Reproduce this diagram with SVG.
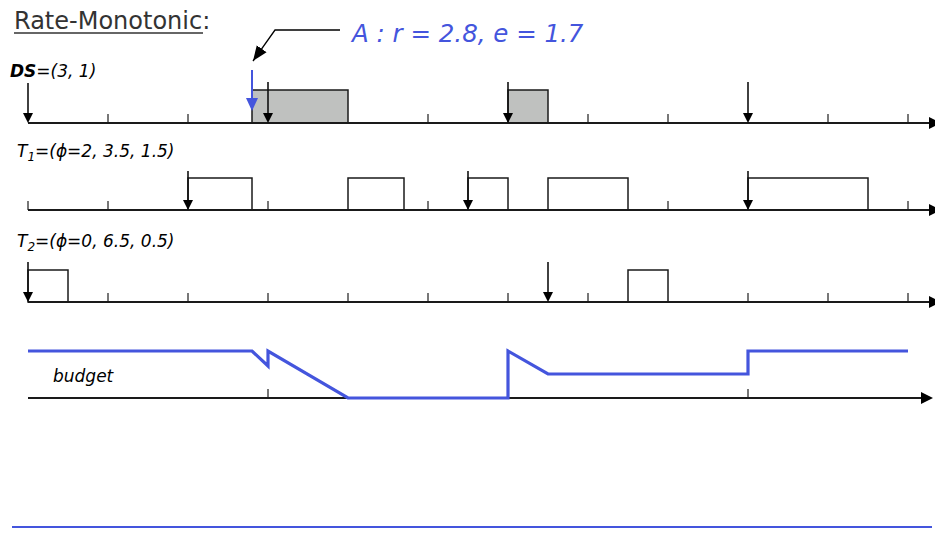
<svg xmlns="http://www.w3.org/2000/svg" width="935" height="555" viewBox="0 0 935 555">
  <defs>
    <style>
      .axis { stroke: #1a1a1a; stroke-width: 2; fill: none; }
      .tick { stroke: #555; stroke-width: 1.6; }
      .job { fill: #ffffff; stroke: #1a1a1a; stroke-width: 1.5; }
      .srv { fill: #bfc1bf; stroke: #1a1a1a; stroke-width: 1.5; }
      .rel { stroke: #111; stroke-width: 1.6; }
      .head { fill: #000; }
      .lbl { font-family: "DejaVu Sans", "Liberation Sans", sans-serif; font-style: oblique; font-size: 17px; fill: #000; }
      .budget { fill: none; stroke: #4455dd; stroke-width: 3.2; stroke-linejoin: miter; }
    </style>
    <marker id="calloutHead" markerUnits="userSpaceOnUse" markerWidth="16" markerHeight="16" viewBox="0 0 16 16" refX="15" refY="8" orient="auto">
      <path d="M0,2 L15,8 L0,14 Z" fill="#000"/>
    </marker>
  </defs>

  <!-- Title -->
  <g id="title">
    <text x="14" y="29" font-family="DejaVu Sans, Liberation Sans, sans-serif" font-size="24" fill="#333">Rate-Monotonic:</text>
    <line x1="14" y1="33" x2="203" y2="33" stroke="#333" stroke-width="1.5"/>
  </g>

  <!-- Deferrable server row -->
  <g id="ds">
    <text class="lbl" x="10" y="77"><tspan font-weight="bold">DS</tspan>=(3, 1)</text>
    <rect class="srv" x="252" y="90" width="96" height="33"/>
    <rect class="srv" x="508" y="90" width="40" height="33"/>
    <g class="tick">
      <line x1="108" y1="114" x2="108" y2="123"/>
      <line x1="188" y1="114" x2="188" y2="123"/>
      <line x1="428" y1="114" x2="428" y2="123"/>
      <line x1="588" y1="114" x2="588" y2="123"/>
      <line x1="668" y1="114" x2="668" y2="123"/>
      <line x1="828" y1="114" x2="828" y2="123"/>
      <line x1="908" y1="114" x2="908" y2="123"/>
    </g>
    <line class="axis" x1="28" y1="123" x2="930" y2="123"/>
    <polygon class="head" points="929,117 929,129 941,123"/>
    <g class="rel">
      <line x1="28" y1="83" x2="28" y2="114"/>
      <line x1="268" y1="82" x2="268" y2="114"/>
      <line x1="508" y1="82" x2="508" y2="114"/>
      <line x1="748" y1="82" x2="748" y2="114"/>
    </g>
    <g class="head">
      <polygon points="23,113 33,113 28,123"/>
      <polygon points="263,113 273,113 268,123"/>
      <polygon points="503,113 513,113 508,123"/>
      <polygon points="743,113 753,113 748,123"/>
    </g>
  </g>

  <!-- Aperiodic job A: label, callout and release arrow -->
  <g id="aperiodic">
    <text x="352" y="42" font-family="DejaVu Sans, Liberation Sans, sans-serif" font-style="oblique" font-size="24.5" fill="#4455dd">A : r = 2.8, e = 1.7</text>
    <polyline points="340,30 275,30 253,61" fill="none" stroke="#000" stroke-width="1.3" marker-end="url(#calloutHead)"/>
    <line x1="252" y1="70" x2="252" y2="100" stroke="#4455dd" stroke-width="2"/>
    <polygon points="246,98 258,98 252,111" fill="#4455dd"/>
  </g>

  <!-- Periodic task T1 -->
  <g id="t1">
    <text class="lbl" x="17" y="157">T<tspan dy="4" font-size="12">1</tspan><tspan dy="-4">=(ϕ=2, 3.5, 1.5)</tspan></text>
    <g class="tick">
      <line x1="28" y1="201" x2="28" y2="210"/>
      <line x1="108" y1="201" x2="108" y2="210"/>
      <line x1="268" y1="201" x2="268" y2="210"/>
      <line x1="428" y1="201" x2="428" y2="210"/>
      <line x1="668" y1="201" x2="668" y2="210"/>
      <line x1="908" y1="201" x2="908" y2="210"/>
    </g>
    <rect class="job" x="188" y="178" width="64" height="32"/>
    <rect class="job" x="348" y="178" width="56" height="32"/>
    <rect class="job" x="468" y="178" width="40" height="32"/>
    <rect class="job" x="548" y="178" width="80" height="32"/>
    <rect class="job" x="748" y="178" width="120" height="32"/>
    <line class="axis" x1="28" y1="210" x2="930" y2="210"/>
    <polygon class="head" points="929,204 929,216 941,210"/>
    <g class="rel">
      <line x1="188" y1="171" x2="188" y2="201"/>
      <line x1="468" y1="171" x2="468" y2="201"/>
      <line x1="748" y1="171" x2="748" y2="201"/>
    </g>
    <g class="head">
      <polygon points="183,200 193,200 188,210"/>
      <polygon points="463,200 473,200 468,210"/>
      <polygon points="743,200 753,200 748,210"/>
    </g>
  </g>

  <!-- Periodic task T2 -->
  <g id="t2">
    <text class="lbl" x="17" y="247">T<tspan dy="4" font-size="12">2</tspan><tspan dy="-4">=(ϕ=0, 6.5, 0.5)</tspan></text>
    <g class="tick">
      <line x1="108" y1="293" x2="108" y2="302"/>
      <line x1="188" y1="293" x2="188" y2="302"/>
      <line x1="268" y1="293" x2="268" y2="302"/>
      <line x1="348" y1="293" x2="348" y2="302"/>
      <line x1="428" y1="293" x2="428" y2="302"/>
      <line x1="508" y1="293" x2="508" y2="302"/>
      <line x1="588" y1="293" x2="588" y2="302"/>
      <line x1="748" y1="293" x2="748" y2="302"/>
      <line x1="828" y1="293" x2="828" y2="302"/>
      <line x1="908" y1="293" x2="908" y2="302"/>
    </g>
    <rect class="job" x="28" y="270" width="40" height="32"/>
    <rect class="job" x="628" y="270" width="40" height="32"/>
    <line class="axis" x1="28" y1="302" x2="930" y2="302"/>
    <polygon class="head" points="929,296 929,308 941,302"/>
    <g class="rel">
      <line x1="28" y1="262" x2="28" y2="293"/>
      <line x1="548" y1="262" x2="548" y2="293"/>
    </g>
    <g class="head">
      <polygon points="23,292 33,292 28,302"/>
      <polygon points="543,292 553,292 548,302"/>
    </g>
  </g>

  <!-- Server budget over time -->
  <g id="budget">
    <text class="lbl" x="53" y="382">budget</text>
    <g class="tick">
      <line x1="268" y1="389" x2="268" y2="398"/>
      <line x1="748" y1="389" x2="748" y2="398"/>
    </g>
    <line class="axis" x1="28" y1="398" x2="922" y2="398"/>
    <polygon class="head" points="921,392 921,404 933,398"/>
    <polyline class="budget" points="28,351 252,351 268,366 268,351 348,398 508,398 508,351 548,374 748,374 748,351 908,351"/>
  </g>

  <!-- Footer rule -->
  <line id="footer" x1="12" y1="527" x2="932" y2="527" stroke="#4455dd" stroke-width="2"/>
</svg>
